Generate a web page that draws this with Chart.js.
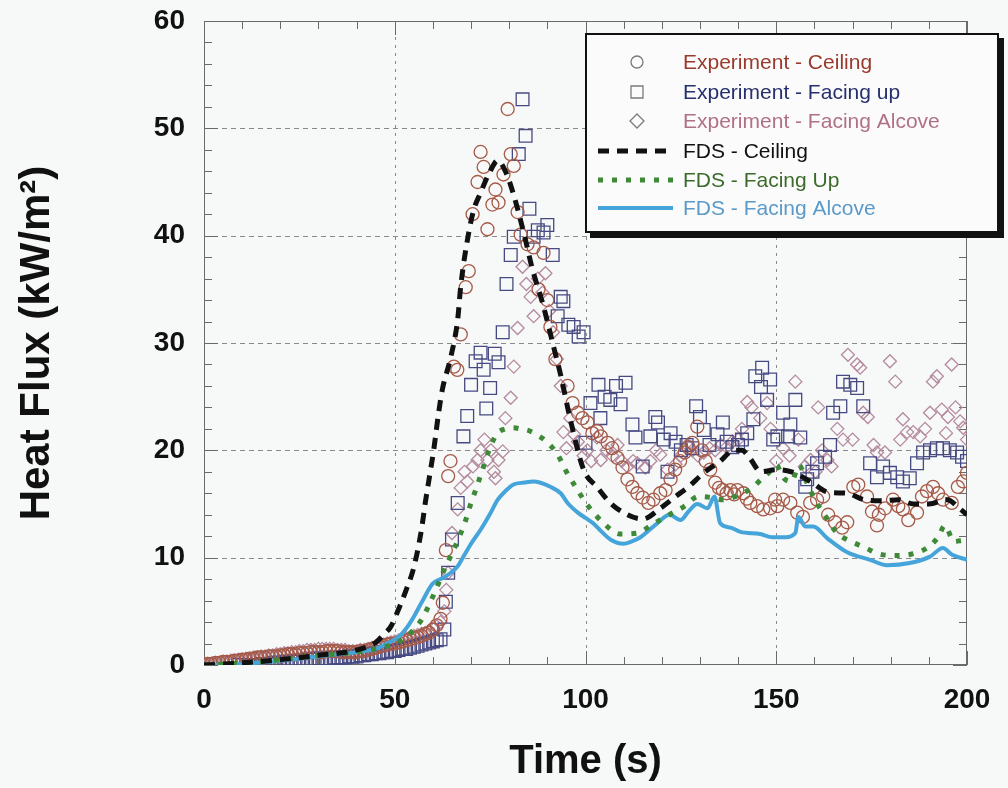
<!DOCTYPE html>
<html>
<head>
<meta charset="utf-8">
<title>Heat Flux</title>
<script src="https://cdn.jsdelivr.net/npm/chart.js@4.4.1/dist/chart.umd.min.js"></script>
<style>
  html, body { margin: 0; padding: 0; background: #f7f8f8; }
  #wrap { width: 1008px; height: 788px; }
</style>
</head>
<body>
<div id="wrap"><canvas id="fluxChart" width="1008" height="788"></canvas></div>
<script>
// axis ticks
const xTicks = [0, 50, 100, 150, 200];
const yTicks = [0, 10, 20, 30, 40, 50, 60];

// dense early part of the measurements (1 s sampling, 0-62 s)
const bandT = [0,1,2,3,4,5,6,7,8,9,10,11,12,13,14,15,16,17,18,19,20,21,22,23,24,25,26,27,28,29,30,31,32,33,34,35,36,37,38,39,40,41,42,43,44,45,46,47,48,49,50,51,52,53,54,55,56,57,58,59,60,61,62];
const ceilBandQ = [0.0,0.1,0.1,0.2,0.2,0.3,0.3,0.3,0.4,0.4,
  0.5,0.5,0.6,0.6,0.7,0.7,0.7,0.8,0.8,0.8,
  0.9,0.9,1.0,1.0,1.0,1.1,1.1,1.1,1.2,1.2,
  1.2,1.2,1.3,1.3,1.3,1.3,1.2,1.2,1.2,1.2,
  1.2,1.3,1.3,1.4,1.5,1.6,1.7,1.8,1.9,2.0,
  2.0,2.1,2.2,2.3,2.4,2.5,2.6,2.7,2.9,3.0,
  3.3,3.7,4.3];
const upBandQ = [null,null,null,null,null,null,null,null,null,0.0,
  0.0,0.0,0.0,0.0,0.0,0.1,0.1,0.1,0.2,0.2,
  0.2,0.3,0.3,0.3,0.4,0.4,0.4,0.5,0.5,0.5,
  0.6,0.6,0.6,0.6,0.7,0.7,0.7,0.7,0.8,0.8,
  0.8,0.9,0.9,1.0,1.0,1.1,1.1,1.2,1.2,1.3,
  1.3,1.4,1.5,1.5,1.6,1.7,1.8,1.9,2.0,2.1,
  2.2,2.3,2.4];
const alcBandQ = [0.0,0.1,0.1,0.2,0.2,0.3,0.3,0.4,0.4,0.5,
  0.5,0.6,0.6,0.7,0.7,0.8,0.8,0.9,0.9,1.0,
  1.0,1.1,1.1,1.2,1.2,1.3,1.3,1.4,1.4,1.4,
  1.5,1.5,1.5,1.5,1.5,1.4,1.4,1.4,1.3,1.3,
  1.3,1.4,1.4,1.5,1.6,1.7,1.8,1.9,2.0,2.1,
  2.2,2.3,2.4,2.5,2.6,2.7,2.8,2.9,3.0,3.2,
  3.4,3.6,4.0];

// Experiment - Ceiling (after 62 s)
const ceilT = [62.6,63.4,64.0,64.6,65.5,66.4,67.3,68.6,69.4,70.4,
  71.7,72.5,73.3,74.3,75.6,76.4,77.2,78.5,79.6,80.4,
  81.2,82.2,83.0,84.8,86.4,87.7,89.0,90.0,90.8,92.1,
  95.3,96.6,98.0,99.2,100.5,101.8,103.0,104.0,105.8,107.0,
  108.4,109.7,111.0,112.3,113.6,115.0,116.5,117.8,119.6,121.0,
  122.3,123.5,124.8,126.0,127.0,128.0,129.3,130.5,131.5,132.7,
  134.0,135.0,136.0,137.0,138.0,139.0,139.8,141.4,142.3,143.2,
  145.0,146.6,148.4,149.7,150.3,151.8,153.7,155.5,157.0,158.9,
  160.7,162.3,163.6,165.4,167.3,168.6,170.2,171.5,173.8,175.1,
  176.4,176.9,178.5,180.6,182.0,183.2,184.6,186.9,188.2,189.5,
  191.1,192.4,193.7,196.0,197.6,199.0,200.0];
const ceilQ = [5.8,10.7,17.6,19.0,27.8,27.5,30.8,35.2,36.7,42.0,
  45.0,47.8,46.4,40.6,42.9,44.3,43.1,45.7,51.8,47.6,
  46.5,42.2,40.1,39.2,38.9,35.0,38.4,34.0,31.5,28.5,
  26.0,24.4,23.5,23.0,22.6,21.6,21.8,21.3,20.7,20.2,
  19.3,18.4,17.3,16.6,16.0,15.6,15.1,15.4,16.0,16.3,
  17.3,18.2,19.0,19.8,20.3,20.7,22.2,20.0,19.0,18.2,
  17.0,16.5,16.3,16.0,16.3,15.9,16.3,16.0,15.5,15.1,
  14.8,14.5,14.6,15.4,14.8,15.4,15.1,14.2,13.8,15.1,
  15.4,15.7,14.0,13.3,12.8,13.3,16.6,16.8,15.7,14.3,
  13.0,14.0,14.6,15.4,14.8,14.5,13.5,14.2,15.7,16.2,
  16.6,16.0,15.4,15.1,16.6,17.1,17.9];

// Experiment - Facing up
const upT = [63.0,63.4,64.0,65.0,66.5,68.0,69.0,70.0,71.2,72.5,
  73.3,74.0,75.0,76.2,77.2,78.3,79.3,80.4,81.2,82.5,
  83.5,84.3,85.3,86.4,87.5,89.0,90.0,91.4,92.7,93.5,
  94.2,95.5,96.9,98.2,99.5,100.0,101.3,103.4,103.9,105.0,
  106.5,108.0,109.2,110.5,112.3,113.1,115.0,117.0,118.3,119.0,
  120.5,121.5,122.3,123.6,125.0,126.5,128.0,129.0,130.0,131.0,
  132.5,134.6,136.0,137.0,138.5,140.0,141.0,142.4,144.0,144.5,
  146.0,146.3,147.6,148.4,149.2,150.3,151.8,153.1,153.7,155.0,
  156.3,157.6,158.1,159.5,160.7,162.8,164.1,164.9,166.8,167.5,
  169.4,171.2,172.8,174.6,176.4,178.0,179.8,181.7,183.2,185.0,
  186.9,188.5,190.3,192.1,193.7,195.5,197.4,198.7,200.0];
const upQ = [3.3,5.9,8.6,11.7,15.1,21.3,23.2,26.1,28.3,29.1,
  27.5,23.9,25.8,29.0,28.2,31.0,35.5,38.2,39.9,47.6,
  52.7,49.3,42.5,39.9,40.5,40.3,41.0,38.2,32.5,34.3,
  33.9,31.7,31.5,30.6,31.0,20.7,24.4,26.1,23.0,25.0,
  24.7,26.0,24.3,26.3,22.4,21.2,18.5,21.3,23.1,22.6,
  21.0,18.0,21.6,20.8,20.0,20.5,20.2,24.1,23.1,21.9,
  20.5,21.5,22.6,20.8,20.3,20.5,21.0,21.6,22.9,26.9,
  25.9,27.7,24.7,26.6,21.0,21.3,23.5,21.3,22.4,24.7,
  21.2,16.6,17.3,18.0,18.8,19.4,20.5,23.5,24.1,26.4,
  26.1,25.8,24.1,18.8,17.5,18.5,17.9,17.5,17.1,17.4,
  18.8,19.8,20.0,20.2,20.2,20.0,19.8,19.4,19.0];

// Experiment - Facing Alcove
const alcT = [63.0,63.5,64.0,65.0,66.5,67.3,68.3,69.0,70.5,71.7,
  72.5,73.5,74.3,75.2,76.0,76.4,77.2,78.3,79.0,80.4,
  81.2,82.2,83.5,84.5,85.6,86.4,87.5,88.7,89.5,90.5,
  91.5,92.5,93.5,94.2,95.0,96.0,97.0,98.0,99.5,100.5,
  101.5,103.0,104.0,105.5,107.0,108.4,109.5,111.0,112.5,113.6,
  115.7,117.0,118.5,119.6,121.5,123.6,125.0,126.7,128.0,129.5,
  131.0,132.5,134.0,135.5,137.0,138.5,140.0,141.0,142.4,143.5,
  145.8,147.6,148.5,150.0,151.8,153.5,155.0,155.8,157.5,159.0,
  160.3,161.0,162.0,163.4,164.5,166.0,167.5,168.8,170.0,171.2,
  172.0,172.8,174.0,175.5,176.4,178.5,179.8,181.2,182.5,183.2,
  184.3,185.9,187.7,189.0,190.3,191.1,192.1,193.4,194.5,195.0,
  196.0,197.0,198.2,199.0,200.0];
const alcQ = [5.0,7.0,8.6,12.3,14.5,16.5,18.0,17.1,18.5,19.1,
  20.0,21.0,19.1,20.0,18.0,17.4,19.1,19.9,23.0,24.9,
  27.8,31.4,37.1,35.5,34.3,32.5,36.0,34.7,36.5,33.0,
  31.0,28.5,26.0,21.7,20.2,23.0,21.5,20.8,19.5,20.0,
  19.0,21.2,19.1,20.0,19.5,20.5,19.0,18.5,19.0,18.8,
  18.4,19.0,20.0,19.6,18.2,18.7,19.5,20.5,20.0,19.5,
  19.8,20.2,20.0,20.5,20.3,20.8,21.0,22.0,24.5,24.0,
  23.0,24.4,22.0,19.0,20.2,19.5,26.4,21.0,18.5,19.1,
  18.0,24.0,20.0,19.1,18.5,22.0,21.0,28.9,21.0,28.0,
  27.7,23.5,23.1,20.5,19.8,19.8,28.3,26.4,21.0,22.9,
  21.7,21.7,21.3,22.0,23.5,26.4,26.9,23.8,21.6,23.1,
  28.0,24.0,22.7,22.1,21.0];

// FDS - Ceiling
const fdsCeilT = [0,10,20,30,40,45,47,49,51,53,55,57,58,59.4,60.2,61.5,62.5,64.7,66.5,67.3,
  69.4,70.7,72.5,75,77,79,81,84,86,89,91.6,93.5,96,99.5,103,106.5,111,115,119.6,123.6,
  127,131,135,139,141,143,146,150,154,159,163.6,168.6,173,178,182,186,190,194.8,198,200];
const fdsCeilQ = [0,0.2,0.5,0.9,1.4,2.1,2.8,3.6,5.2,7.0,9.1,12.6,15.1,18.2,20.0,23.5,25.7,28.7,32.2,35.3,
  40.3,42.4,44.0,46.0,47.0,46.0,44.0,40.0,37.0,33.4,29.7,27.0,22.9,18.2,16.6,15.1,14.0,13.6,14.6,15.7,
  16.6,17.9,18.9,20.0,20.0,19.3,18.0,18.2,18.0,17.1,16.1,16.0,15.4,15.3,15.4,15.0,15.0,15.4,14.6,14.0];

// FDS - Facing Up
const fdsUpT = [0,10,20,30,40,45,50,53,55,57,59,61,63,65,67,68.6,70,71.5,73,74.6,
  76.7,79,81,83,85.4,87.5,89.5,92.7,95,97.4,100.5,104.5,109,113.6,118,122,126,129.6,133,136,
  140,144,146.3,148,150,152,154,156,158,160,162,163.6,165,167,169,171.5,174,176.4,180.6,185,
  189.5,192.4,194.2,196.6,198.5,200];
const fdsUpQ = [0,0.2,0.5,0.9,1.2,1.5,2.0,2.6,3.3,4.2,5.6,7.2,8.9,10.4,12.0,13.5,15.1,16.6,18.2,19.9,
  21.5,22.0,22.1,22.0,21.8,21.4,20.9,19.6,18.0,16.6,14.9,13.3,12.2,12.3,13.2,14.0,14.8,15.7,15.6,15.4,
  15.8,16.6,17.4,17.9,18.6,17.4,17.1,18.6,17.0,15.5,14.3,13.5,12.7,12.0,11.6,11.2,10.8,10.4,10.2,10.3,
  10.9,11.9,13.0,11.5,11.6,11.7];

// FDS - Facing Alcove
const fdsAlcT = [0,10,20,30,40,45,48,51,53,55,57,60,62.6,64.7,66.5,68,70,72.5,75,77,
  79,81,84,86.4,88,90.8,93.5,95.3,98,100,102,104,106.5,110,112,114.4,118.8,122,124.9,127,
  129.3,132,133.8,135.3,138,140.6,145.8,149,152.4,155,155.8,157.6,159.7,163.4,168.6,174.6,179,185,190.3,193.7,
  196,200];
const fdsAlcQ = [0,0.1,0.4,0.8,1.2,1.5,2.0,2.6,3.4,4.5,5.8,7.6,8.1,8.6,9.2,10.1,11.3,12.6,14.1,15.4,
  16.2,16.8,17.0,17.1,17.0,16.6,16.0,15.1,14.2,13.7,13.2,12.5,11.7,11.3,11.5,11.9,13.2,14.0,13.5,14.3,
  15.0,14.6,15.7,13.2,12.8,12.4,12.2,11.9,11.9,12.3,13.8,12.9,12.9,11.8,10.5,9.8,9.3,9.5,10.1,10.9,
  10.3,9.8];

function pairs(t, q) {
  return t.map((x, i) => ({ x: x, y: q[i] }));
}

const FONT = '"Liberation Sans", Arial, sans-serif';

// colours of the legend text, one per dataset
const legendText = ['#9a3a2c', '#27306e', '#b07088', '#111111', '#3d6b2b', '#5b9ac8'];

// gridlines, box and inward minor/major tick marks
const framePlugin = {
  id: 'frame',
  beforeDatasetsDraw(chart) {
    const { ctx, chartArea: a, scales: { x, y } } = chart;
    ctx.save();
    ctx.lineWidth = 1;
    ctx.strokeStyle = '#8a8a8a';
    ctx.setLineDash([5, 4]);
    yTicks.forEach(v => {
      if (v <= 0 || v >= 60) return;
      const py = Math.round(y.getPixelForValue(v)) + 0.5;
      ctx.beginPath(); ctx.moveTo(a.left, py); ctx.lineTo(a.right, py); ctx.stroke();
    });
    ctx.setLineDash([3, 5]);
    xTicks.forEach(v => {
      if (v <= 0 || v >= 200) return;
      const px = Math.round(x.getPixelForValue(v)) + 0.5;
      ctx.beginPath(); ctx.moveTo(px, a.top); ctx.lineTo(px, a.bottom); ctx.stroke();
    });
    ctx.setLineDash([]);
    ctx.strokeStyle = '#6a6a6a';
    ctx.strokeRect(a.left + 0.5, a.top + 0.5, a.right - a.left - 1, a.bottom - a.top - 1);
    ctx.beginPath();
    for (let v = 0; v <= 60; v += 2) {
      const py = Math.round(y.getPixelForValue(v)) + 0.5;
      const len = v % 10 === 0 ? 14 : 8;
      ctx.moveTo(a.left, py); ctx.lineTo(a.left + len, py);
      ctx.moveTo(a.right, py); ctx.lineTo(a.right - len, py);
    }
    for (let v = 0; v <= 200; v += 10) {
      const px = Math.round(x.getPixelForValue(v)) + 0.5;
      const len = v % 50 === 0 ? 14 : 8;
      ctx.moveTo(px, a.bottom); ctx.lineTo(px, a.bottom - len);
      ctx.moveTo(px, a.top); ctx.lineTo(px, a.top + len);
    }
    ctx.stroke();
    ctx.restore();
  }
};

// boxed legend with drop shadow inside the plot
const legendPlugin = {
  id: 'boxLegend',
  afterDraw(chart) {
    const ctx = chart.ctx;
    const rowsY = [62, 92, 121, 151, 180, 208];
    ctx.save();
    ctx.fillStyle = '#111';
    ctx.fillRect(590, 38, 414, 200);
    ctx.fillStyle = '#fbfbfb';
    ctx.fillRect(585, 33, 414, 200);
    ctx.lineWidth = 2;
    ctx.strokeStyle = '#111';
    ctx.strokeRect(586, 34, 412, 198);
    ctx.font = '21px ' + FONT;
    ctx.textBaseline = 'middle';
    chart.data.datasets.forEach((ds, row) => {
      const yy = rowsY[row];
      ctx.save();
      if (ds.showLine) {
        ctx.strokeStyle = ds.borderColor;
        ctx.lineWidth = ds.borderWidth;
        ctx.setLineDash(ds.borderDash || []);
        ctx.beginPath(); ctx.moveTo(598, yy); ctx.lineTo(673, yy); ctx.stroke();
      } else {
        ctx.strokeStyle = '#7a7a7a';
        ctx.lineWidth = 1.3;
        ctx.beginPath();
        if (ds.pointStyle === 'circle') ctx.arc(637, yy, 6, 0, Math.PI * 2);
        else if (ds.pointStyle === 'rect') ctx.rect(631, yy - 6, 12, 12);
        else { ctx.moveTo(637, yy - 7); ctx.lineTo(644, yy); ctx.lineTo(637, yy + 7); ctx.lineTo(630, yy); ctx.closePath(); }
        ctx.stroke();
      }
      ctx.restore();
      ctx.fillStyle = legendText[row];
      ctx.fillText(ds.label, 683, yy + 1);
    });
    ctx.restore();
  }
};

const lineBase = { showLine: true, pointRadius: 0, fill: false, cubicInterpolationMode: 'monotone', order: 0 };
const markBase = { showLine: false, backgroundColor: 'rgba(0,0,0,0)', pointBorderWidth: 1.3, order: 1 };

const datasets = [
  Object.assign({}, markBase, {
    label: 'Experiment - Ceiling',
    data: pairs(bandT, ceilBandQ).concat(pairs(ceilT, ceilQ)),
    pointStyle: 'circle', pointRadius: 6.5, borderColor: '#a65a48', pointBorderColor: '#a65a48'
  }),
  Object.assign({}, markBase, {
    label: 'Experiment - Facing up',
    data: pairs(bandT, upBandQ).concat(pairs(upT, upQ)),
    pointStyle: 'rect', pointRadius: 9, borderColor: '#474a82', pointBorderColor: '#474a82'
  }),
  Object.assign({}, markBase, {
    label: 'Experiment - Facing Alcove',
    data: pairs(bandT, alcBandQ).concat(pairs(alcT, alcQ)),
    pointStyle: 'rectRot', pointRadius: 6.5, borderColor: '#b48a9e', pointBorderColor: '#b48a9e'
  }),
  Object.assign({}, lineBase, {
    label: 'FDS - Ceiling',
    data: pairs(fdsCeilT, fdsCeilQ),
    borderColor: '#111111', borderWidth: 5, borderDash: [11, 8]
  }),
  Object.assign({}, lineBase, {
    label: 'FDS - Facing Up',
    data: pairs(fdsUpT, fdsUpQ),
    borderColor: '#3f8a38', borderWidth: 5, borderDash: [5, 9]
  }),
  Object.assign({}, lineBase, {
    label: 'FDS - Facing Alcove',
    data: pairs(fdsAlcT, fdsAlcQ),
    borderColor: '#45a5da', borderWidth: 4
  })
];

new Chart(document.getElementById('fluxChart').getContext('2d'), {
  type: 'scatter',
  data: { datasets: datasets },
  plugins: [framePlugin, legendPlugin],
  options: {
    responsive: false,
    animation: false,
    events: [],
    layout: { padding: { top: 21, right: 41, left: 0, bottom: 0 } },
    plugins: { legend: { display: false }, tooltip: { enabled: false } },
    scales: {
      x: {
        type: 'linear', min: 0, max: 200,
        afterFit(s) { s.height = 123; s.paddingLeft = 0; s.paddingRight = 0; },
        afterBuildTicks(s) { s.ticks = xTicks.map(v => ({ value: v })); },
        grid: { display: false, drawTicks: false },
        border: { display: false },
        ticks: { padding: 18, color: '#111', font: { family: FONT, size: 28, weight: 'bold' } },
        title: { display: true, text: 'Time (s)', color: '#111', padding: { top: 0, bottom: 2 },
                 font: { family: FONT, size: 40, weight: 'bold' } }
      },
      y: {
        type: 'linear', min: 0, max: 60,
        afterFit(s) { s.width = 204; s.paddingTop = 0; s.paddingBottom = 0; },
        afterBuildTicks(s) { s.ticks = yTicks.map(v => ({ value: v })); },
        grid: { display: false, drawTicks: false },
        border: { display: false },
        ticks: { padding: 19, color: '#111', font: { family: FONT, size: 28, weight: 'bold' } },
        title: { display: true, text: 'Heat Flux (kW/m²)', color: '#111', padding: { top: 12, bottom: 0 },
                 font: { family: FONT, size: 42, weight: 'bold' } }
      }
    }
  }
});
</script>
</body>
</html>
